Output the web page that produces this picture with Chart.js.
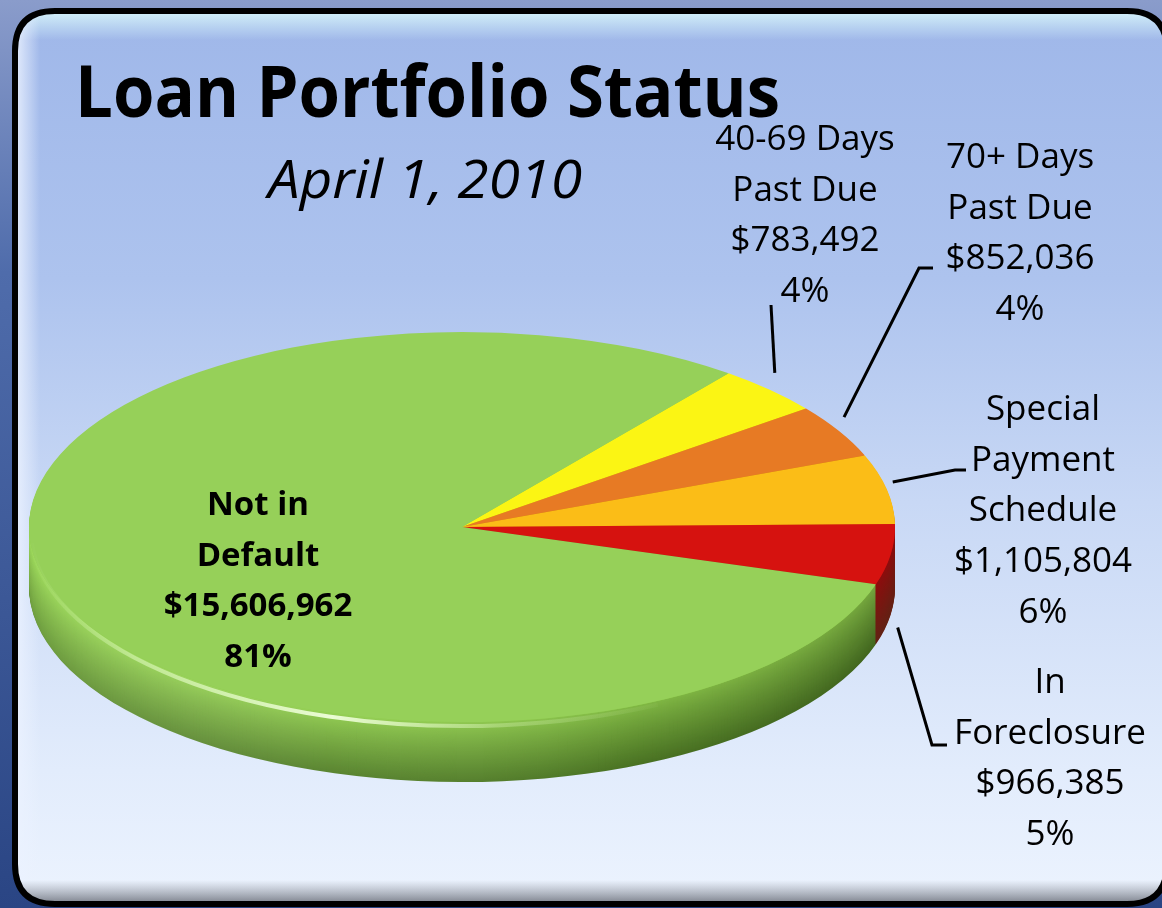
<!DOCTYPE html>
<html><head><meta charset="utf-8">
<script src="https://cdn.jsdelivr.net/npm/chart.js@4.4.1/dist/chart.umd.min.js"></script>
<style>html,body{margin:0;padding:0;overflow:hidden;background:#3a5596}canvas{display:block}</style>
</head><body>
<canvas id="c" width="1162" height="908"></canvas>
<script>
// ---- data ----
const categories = ['40-69 Days Past Due', '70+ Days Past Due', 'Special Payment Schedule', 'In Foreclosure', 'Not in Default'];
const labelLines = [['40-69 Days', 'Past Due'], ['70+ Days', 'Past Due'], ['Special', 'Payment', 'Schedule'], ['In', 'Foreclosure'], ['Not in', 'Default']];
const amounts = [783492, 852036, 1105804, 966385, 15606962];
const titleText = 'Loan Portfolio Status';
const subtitleText = 'April 1, 2010';

// ---- styles ----
const topColors = ['#fbf514', '#e77a24', '#fbbd17', '#d6120f', '#96d059'];
const sideTop = ['#d8d000', '#c86418', '#d89c10', '#b01010', '#8fcc4c'];
const sideBottom = ['#9a9400', '#8a420c', '#9a6c08', '#7a2a1a', '#527f27'];
const PIE = { cx: 462, cy: 527, rx: 433, ry: 195, depth: 60, r: 300 };
const FONT = '"Open Sans", Lato, sans-serif';
const labelLayout = [
  { cx: 805, y0: 150, bold: false, off: [5, -17], pts: [[771, 305]] },
  { cx: 1020, y0: 168, bold: false, off: [5, -14], pts: [[919, 268], [933, 268]] },
  { cx: 1043, y0: 420, bold: false, off: [6, -7], pts: [[955, 470], [966, 470]] },
  { cx: 1050, y0: 693, bold: false, off: [7, 73], pts: [[932, 745], [947, 745]] },
  { cx: 258, y0: 515, bold: true, off: null, pts: null }
];
const LINE_PITCH = 50.7;

const total = amounts.reduce((a, b) => a + b, 0);
function fmtMoney(v) { return '$' + v.toLocaleString('en-US'); }
function fmtPct(v) { return Math.round(v / total * 100) + '%'; }

function hexToRgb(h) { const n = parseInt(h.slice(1), 16); return [(n >> 16) & 255, (n >> 8) & 255, n & 255]; }
function mix(a, b, t) { const A = hexToRgb(a), B = hexToRgb(b); return 'rgb(' + A.map((v, i) => Math.round(v + (B[i] - v) * t)).join(',') + ')'; }

function roundRect(ctx, x, y, w, h, r) {
  ctx.beginPath();
  ctx.moveTo(x + r, y); ctx.lineTo(x + w - r, y); ctx.quadraticCurveTo(x + w, y, x + w, y + r);
  ctx.lineTo(x + w, y + h - r); ctx.quadraticCurveTo(x + w, y + h, x + w - r, y + h);
  ctx.lineTo(x + r, y + h); ctx.quadraticCurveTo(x, y + h, x, y + h - r);
  ctx.lineTo(x, y + r); ctx.quadraticCurveTo(x, y, x + r, y); ctx.closePath();
}

// draw text stretched/squeezed horizontally to a target width
function fitText(ctx, text, x, y, targetW, align) {
  const w = ctx.measureText(text).width;
  ctx.save();
  ctx.translate(x, y); ctx.scale(targetW / w, 1);
  ctx.textAlign = align; ctx.fillText(text, 0, 0);
  ctx.restore();
}

const bgPlugin = {
  id: 'bg',
  beforeDraw(chart) {
    const ctx = chart.ctx, W = chart.width, H = chart.height;
    ctx.save();
    let g = ctx.createLinearGradient(0, 0, 0, H);
    g.addColorStop(0, '#8a9ccb'); g.addColorStop(0.3, '#4f6cab'); g.addColorStop(1, '#2a4584');
    ctx.fillStyle = g; ctx.fillRect(0, 0, W, H);
    // panel
    roundRect(ctx, 15, 11, 1152, 893, 40);
    g = ctx.createLinearGradient(0, 11, 0, 904);
    g.addColorStop(0, '#9fb7e9'); g.addColorStop(0.3, '#adc3ee'); g.addColorStop(0.55, '#c8d8f5');
    g.addColorStop(0.85, '#e2ecfc'); g.addColorStop(1, '#ecf3fe');
    ctx.fillStyle = g; ctx.fill();
    ctx.save(); ctx.clip();
    g = ctx.createLinearGradient(0, 11, 0, 40);
    g.addColorStop(0, 'rgba(215,245,250,0.95)'); g.addColorStop(1, 'rgba(215,245,250,0)');
    ctx.fillStyle = g; ctx.fillRect(15, 11, 1152, 30);
    g = ctx.createLinearGradient(18, 0, 40, 0);
    g.addColorStop(0, 'rgba(235,242,255,0.8)'); g.addColorStop(1, 'rgba(235,242,255,0)');
    ctx.fillStyle = g; ctx.fillRect(15, 11, 30, 893);
    g = ctx.createLinearGradient(0, 880, 0, 904);
    g.addColorStop(0, 'rgba(120,125,135,0)'); g.addColorStop(1, 'rgba(90,95,105,0.8)');
    ctx.fillStyle = g; ctx.fillRect(15, 880, 1152, 24);
    ctx.restore();
    roundRect(ctx, 15, 11, 1152, 893, 40);
    ctx.lineWidth = 6; ctx.strokeStyle = '#000'; ctx.stroke();
    ctx.restore();
  }
};

const pie3d = {
  id: 'pie3d',
  beforeDatasetsDraw(chart) {
    const ctx = chart.ctx;
    const arcs = chart.getDatasetMeta(0).data;
    const cx = arcs[0].x, cy = arcs[0].y, R = arcs[0].outerRadius;
    const sx = PIE.rx / R, sy = PIE.ry / R;
    ctx.save();
    for (let d = PIE.depth; d >= 1; d--) {
      const t = Math.pow((d - 1) / (PIE.depth - 1), 0.9);
      arcs.forEach((a, i) => {
        ctx.save();
        ctx.translate(cx, cy + d); ctx.scale(sx, sy);
        ctx.beginPath(); ctx.moveTo(0, 0);
        ctx.arc(0, 0, R, a.startAngle, a.endAngle); ctx.closePath();
        ctx.fillStyle = mix(sideTop[i], sideBottom[i], t);
        ctx.fill();
        ctx.restore();
      });
    }
    const D = PIE.depth, RX = PIE.rx, RY = PIE.ry;
    ctx.beginPath();
    ctx.moveTo(cx - RX, cy); ctx.lineTo(cx - RX, cy + D);
    ctx.ellipse(cx, cy + D, RX, RY, 0, Math.PI, 0, true);
    ctx.lineTo(cx + RX, cy);
    ctx.ellipse(cx, cy, RX, RY, 0, 0, Math.PI, false);
    ctx.closePath();
    const g = ctx.createLinearGradient(cx - RX, 0, cx + RX, 0);
    g.addColorStop(0, 'rgba(200,255,140,0.25)'); g.addColorStop(0.35, 'rgba(255,255,255,0.05)');
    g.addColorStop(0.7, 'rgba(0,0,0,0.1)'); g.addColorStop(1, 'rgba(0,0,0,0.2)');
    ctx.fillStyle = g; ctx.fill();
    ctx.translate(cx, cy); ctx.scale(sx, sy); ctx.translate(-cx, -cy);
  },
  afterDatasetsDraw(chart) {
    const ctx = chart.ctx;
    ctx.restore();
    const arcs = chart.getDatasetMeta(0).data;
    const cx = arcs[0].x, cy = arcs[0].y;
    ctx.save();
    const g = ctx.createLinearGradient(cx - PIE.rx, 0, cx + PIE.rx, 0);
    g.addColorStop(0, 'rgba(230,255,200,0)'); g.addColorStop(0.12, 'rgba(230,255,200,0.5)');
    g.addColorStop(0.35, 'rgba(240,255,220,0.95)'); g.addColorStop(0.55, 'rgba(230,255,200,0.3)');
    g.addColorStop(0.75, 'rgba(230,255,200,0)'); g.addColorStop(1, 'rgba(230,255,200,0)');
    ctx.strokeStyle = g; ctx.lineWidth = 4;
    ctx.beginPath(); ctx.ellipse(cx, cy + 4, PIE.rx - 2, PIE.ry, 0, Math.PI * 0.35, Math.PI * 0.98); ctx.stroke();
    ctx.restore();
  }
};

const textPlugin = {
  id: 'texts',
  afterDraw(chart) {
    const ctx = chart.ctx;
    const arcs = chart.getDatasetMeta(0).data;
    const cx = arcs[0].x, cy = arcs[0].y;
    ctx.save();
    ctx.fillStyle = '#000'; ctx.textBaseline = 'alphabetic';
    ctx.font = 'bold 72px ' + FONT;
    fitText(ctx, titleText, 75, 117, 705, 'left');
    ctx.font = 'italic 53px ' + FONT;
    fitText(ctx, subtitleText, 268, 198, 314, 'left');
    ctx.textAlign = 'center';
    labelLayout.forEach((L, i) => {
      const lines = labelLines[i].concat([fmtMoney(amounts[i]), fmtPct(amounts[i])]);
      ctx.font = (L.bold ? 'bold 33px ' : '35px ') + FONT;
      lines.forEach((s, k) => ctx.fillText(s, L.cx, L.y0 + k * LINE_PITCH));
      if (L.pts) {
        const a = arcs[i];
        const mid = (a.startAngle + a.endAngle) / 2;
        const sxp = cx + PIE.rx * Math.cos(mid) + L.off[0];
        const syp = cy + PIE.ry * Math.sin(mid) + L.off[1];
        ctx.beginPath(); ctx.moveTo(sxp, syp);
        L.pts.forEach(p => ctx.lineTo(p[0], p[1]));
        ctx.lineWidth = 3; ctx.strokeStyle = '#000'; ctx.lineJoin = 'miter'; ctx.stroke();
      }
    });
    ctx.restore();
  }
};

new Chart(document.getElementById('c'), {
  type: 'pie',
  data: {
    labels: categories,
    datasets: [{ data: amounts, backgroundColor: topColors, borderWidth: 0, hoverOffset: 0, clip: false, radius: PIE.r }]
  },
  options: {
    responsive: false, animation: false, devicePixelRatio: 1, events: [],
    rotation: 38,
    layout: { padding: { left: PIE.cx - PIE.r, right: 1162 - PIE.cx - PIE.r, top: PIE.cy - PIE.r, bottom: 908 - PIE.cy - PIE.r } },
    plugins: { legend: { display: false }, tooltip: { enabled: false }, title: { display: false } }
  },
  plugins: [bgPlugin, pie3d, textPlugin]
});
</script>
</body></html>
